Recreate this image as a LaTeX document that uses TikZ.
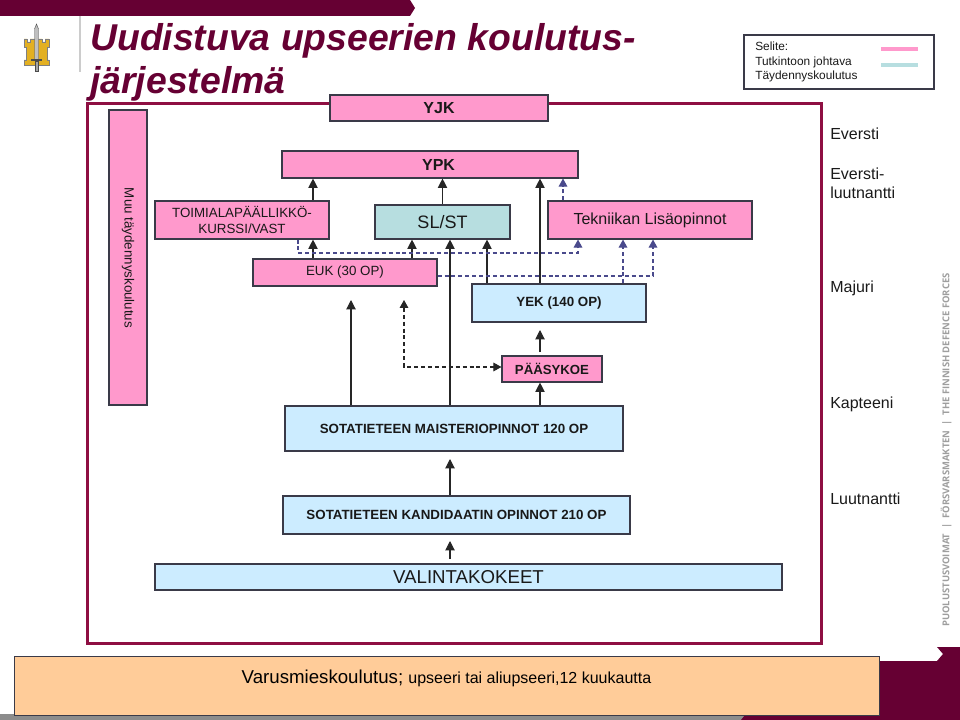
\documentclass[tikz,border=0pt]{standalone}
\usepackage{fontspec}
\setmainfont{Liberation Sans}
\newfontfamily\markfont{Open Sans}
\usetikzlibrary{arrows.meta}
\definecolor{wine}{HTML}{660033}
\definecolor{framered}{HTML}{8E0F42}
\definecolor{boxpink}{HTML}{FF99CC}
\definecolor{boxteal}{HTML}{B7DEE0}
\definecolor{boxblue}{HTML}{CCECFF}
\definecolor{boxorange}{HTML}{FFCC99}
\definecolor{dashblue}{HTML}{4A4A8C}
\definecolor{edgegrey}{HTML}{3A3A48}
\definecolor{castle}{HTML}{E3B022}
\tikzset{
  box/.style={draw=edgegrey, line width=0.85pt, inner sep=0pt, align=center, text=black!90},
  pinkbox/.style={box, fill=boxpink},
  bluebox/.style={box, fill=boxblue},
  solidarrow/.style={draw=black!85, line width=0.8pt, -{Triangle[length=7pt,width=7pt]}},
  dasharrow/.style={draw=black!85, line width=0.8pt, dash pattern=on 3pt off 2.2pt},
  bluearrow/.style={draw=dashblue, line width=0.8pt, dash pattern=on 3pt off 2.2pt, -{Triangle[length=6pt,width=6.5pt]}},
  rank/.style={anchor=west, inner sep=0pt, align=left, font=\fontsize{12}{14.5}\selectfont, text=black!90}
}
\begin{document}
\begin{tikzpicture}[x=0.75pt, y=-0.75pt]
  \useasboundingbox (0,0) rectangle (960,720);
  % slide background
  \fill[wine] (0,0) -- (410,0) -- (415,8) -- (410,16) -- (0,16) -- cycle;
  \fill[black!45] (0,714) rectangle (745,720);
  \fill[wine] (960,647) -- (937,647) -- (943,654) -- (937,661) -- (870,661) -- (870,715)
    -- (745,715) -- (741,720) -- (960,720) -- cycle;
  \draw[black!20, line width=0.8pt] (80,16) -- (80,72);
  % emblem
  \fill[castle, draw=black!50, line width=0.3pt] (24,39) -- (27,39) -- (27,42) -- (30,42) -- (30,39)
    -- (42,39) -- (42,42) -- (45,42) -- (45,39) -- (49,39) -- (49,47) -- (47,47) -- (47,60) -- (49,60) -- (49,65)
    -- (24,65) -- (24,60) -- (26,60) -- (26,47) -- (24,47) -- cycle;
  \fill[black!25, draw=black!70, line width=0.3pt] (34.5,60) -- (34.5,29) -- (36.5,24) -- (38.5,29) -- (38.5,60) -- cycle;
  \fill[black!70] (31,59) rectangle (42,61);
  \fill[black!35, draw=black!70, line width=0.3pt] (35,61) rectangle (38,71);
  \node[inner sep=0pt, anchor=center, rotate=90, text=black!38, font=\markfont\bfseries\fontsize{7.1}{8}\selectfont] (mark) at (946,450)
    {PUOLUSTUSVOIMAT\ \ |\ \ FÖRSVARSMAKTEN\ \ |\ \ THE FINNISH DEFENCE FORCES};
  % title and frame
  \node[anchor=north west, inner sep=0pt, align=left, text=wine, font=\bfseries\itshape\fontsize{28}{32.25}\selectfont] (title) at (90,23)
    {Uudistuva upseerien koulutus-\\järjestelmä};
  \draw[framered, line width=2.25pt] (87,104) rectangle (821,643);
  % legend
  \node[draw=edgegrey, line width=0.85pt, minimum width=142.5pt, minimum height=40.5pt, inner sep=0pt] (legend) at (839,62) {};
  \node[anchor=west, inner sep=0pt, align=left, font=\fontsize{8.9}{10.9}\selectfont, text=black!90] (legendtext) at (755,62)
    {Selite:\\Tutkintoon johtava\\Täydennyskoulutus};
  \coordinate (pinkstart) at (881,49);
  \coordinate (pinkend) at (918,49);
  \coordinate (tealstart) at (881,65);
  \coordinate (tealend) at (918,65);
  \draw[boxpink, line width=2.6pt] (pinkstart) -- (pinkend);
  \draw[boxteal, line width=2.6pt] (tealstart) -- (tealend);
  % ranks
  \node[rank] (eversti) at (830,134) {Eversti};
  \node[rank] (evluutn) at (830,183) {Eversti-\\luutnantti};
  \node[rank] (majuri) at (830,288) {Majuri};
  \node[rank] (kapteeni) at (830,404) {Kapteeni};
  \node[rank] (luutn) at (830,499) {Luutnantti};
  % boxes
  \node[pinkbox, minimum width=163.5pt, minimum height=19.5pt, font=\bfseries\fontsize{12}{14}\selectfont] (yjk) at (439,108) {YJK};
  \node[pinkbox, minimum width=222pt, minimum height=20.25pt, font=\bfseries\fontsize{12}{14}\selectfont] (ypk) at (430,164.5) {\hspace*{12.8pt}YPK};
  \node[pinkbox, minimum width=28.5pt, minimum height=221.25pt] (muu) at (128,257.5) {};
  \node[rotate=-90, inner sep=0pt, font=\fontsize{10}{11}\selectfont, text=black!90] (muutext) at (128,258) {Muu täydennyskoulutus};
  \node[pinkbox, minimum width=130.5pt, minimum height=28.5pt, font=\fontsize{10}{11.8}\selectfont] (toim) at (242,220) {TOIMIALAPÄÄLLIKKÖ-\\KURSSI/VAST};
  \node[box, fill=boxteal, minimum width=101.25pt, minimum height=25.5pt, font=\fontsize{13.5}{15}\selectfont] (slst) at (442.5,222) {SL/ST};
  \node[pinkbox, minimum width=153pt, minimum height=28.5pt, font=\fontsize{12}{14}\selectfont] (tekn) at (650,220) {Tekniikan Lisäopinnot};
  \node[pinkbox, minimum width=138pt, minimum height=20.25pt, font=\fontsize{10}{12}\selectfont] (euk) at (345,272.5) {EUK (30 OP)};
  \node[bluebox, minimum width=130.5pt, minimum height=28.5pt, font=\bfseries\fontsize{10}{12}\selectfont] (yek) at (559,303) {YEK (140 OP)};
  \node[pinkbox, minimum width=75pt, minimum height=19.5pt, font=\bfseries\fontsize{9.9}{12}\selectfont] (paasy) at (552,369) {PÄÄSYKOE};
  \node[bluebox, minimum width=253.5pt, minimum height=33.75pt, font=\bfseries\fontsize{10}{12}\selectfont] (maist) at (454,428.5) {SOTATIETEEN MAISTERIOPINNOT 120 OP};
  \node[bluebox, minimum width=260.25pt, minimum height=28.5pt, font=\bfseries\fontsize{10}{12}\selectfont] (kand) at (456.5,515) {SOTATIETEEN KANDIDAATIN OPINNOT 210 OP};
  \node[bluebox, minimum width=470.25pt, minimum height=19.5pt, font=\fontsize{14}{15}\selectfont] (valinta) at (468.5,577) {VALINTAKOKEET};
  \node[box, fill=boxorange, minimum width=648.75pt, minimum height=44.25pt, anchor=north west] (varus) at (14,656) {};
  \node[inner sep=0pt, anchor=base, text=black] (varustext) at (446.5,683)
    {\fontsize{14}{16}\selectfont Varusmieskoulutus; \fontsize{12}{14}\selectfont upseeri tai aliupseeri,12 kuukautta};
  % free arrow ends
  \coordinate (headeuk) at (351,300);
  \coordinate (headdash) at (404,300);
  \coordinate (bendpaasy) at (404,367);
  \coordinate (headyek) at (540,330);
  \coordinate (startyek) at (540,352);
  \coordinate (headkand) at (450,459);
  \coordinate (headvalinta) at (450,541);
  \coordinate (startvalinta) at (450,559);
  \coordinate (bendtoim) at (298,253);
  \coordinate (bendtekn) at (578,253);
  \coordinate (bendeuk) at (653,276);
  % solid arrows
  \draw[solidarrow] (toim.north -| 313,0) -- (ypk.south -| 313,0);
  \draw[solidarrow] (slst.north) -- (ypk.south -| slst.north);
  \draw[solidarrow] (yek.north -| 540,0) -- (ypk.south -| 540,0);
  \draw[solidarrow] (euk.north -| 313,0) -- (toim.south -| 313,0);
  \draw[solidarrow] (euk.north -| 412,0) -- (slst.south -| 412,0);
  \draw[solidarrow] (yek.north -| 487,0) -- (slst.south -| 487,0);
  \draw[solidarrow] (maist.north -| 450,0) -- (slst.south -| 450,0);
  \draw[solidarrow] (maist.north -| headeuk) -- (headeuk);
  \draw[solidarrow] (startyek) -- (headyek);
  \draw[solidarrow] (maist.north -| 540,0) -- (paasy.south -| 540,0);
  \draw[solidarrow] (kand.north -| headkand) -- (headkand);
  \draw[solidarrow] (startvalinta) -- (headvalinta);
  % dashed arrows
  \draw[dasharrow, {Triangle[length=6pt,width=6.5pt]}-{Triangle[length=6pt,width=6.5pt]}] (headdash) -- (bendpaasy) -- (paasy.west |- bendpaasy);
  \draw[bluearrow] (tekn.north -| 563,0) -- (ypk.south -| 563,0);
  \draw[bluearrow] (toim.south -| bendtoim) -- (bendtoim) -- (bendtekn) -- (tekn.south -| bendtekn);
  \draw[bluearrow] (euk.east |- bendeuk) -- (bendeuk) -- (tekn.south -| bendeuk);
  \draw[bluearrow] (yek.north -| 623,0) -- (tekn.south -| 623,0);
\end{tikzpicture}
\end{document}
